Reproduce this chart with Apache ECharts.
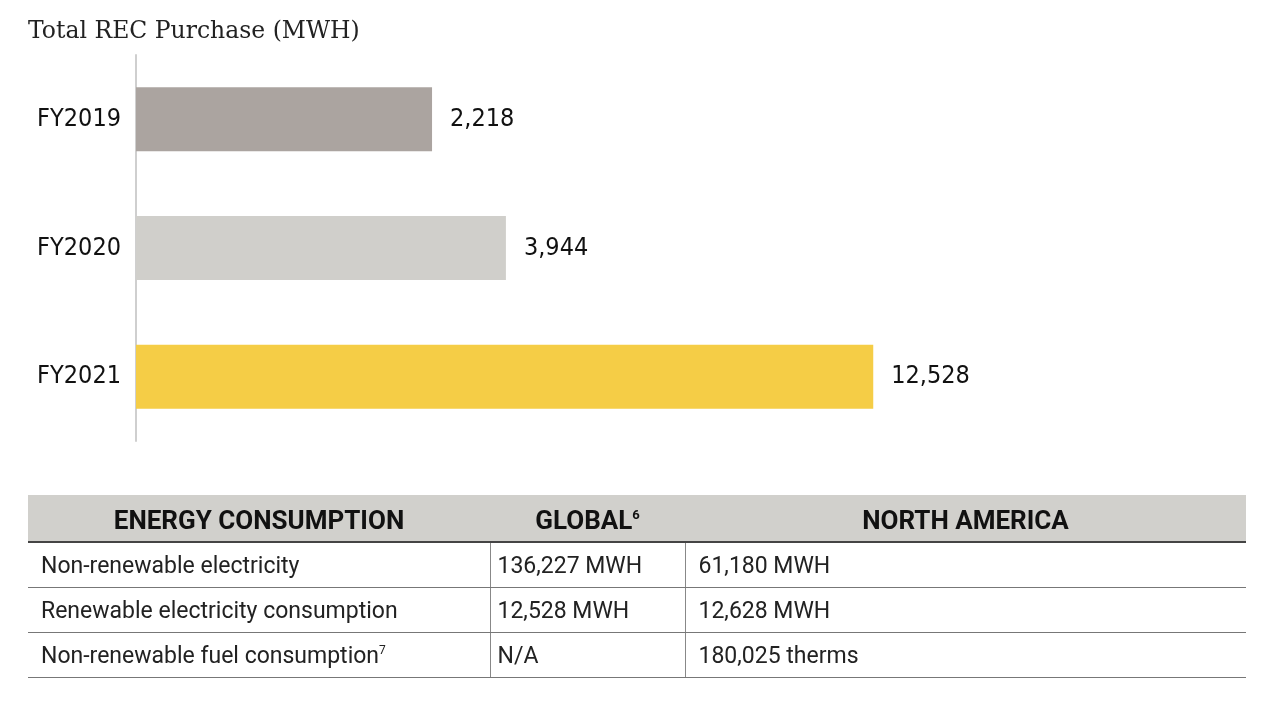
<!DOCTYPE html>
<html>
<head>
<meta charset="utf-8">
<script src="https://cdn.jsdelivr.net/npm/echarts@6/dist/echarts.min.js"></script>
<style>
  html, body { margin: 0; padding: 0; background: #fff; }
  #chart { position: absolute; left: 0; top: 0; width: 1280px; height: 716px; }
  #energy {
    position: absolute; left: 28px; top: 495px; width: 1218px;
    border-collapse: collapse; font-family: Roboto, "Noto Sans", sans-serif;
    color: #222; table-layout: fixed;
  }
  #energy th {
    background: #d1d0cc; height: 47px; padding: 3px 0 0 0; font-size: 26px; font-weight: 700;
    color: #111; border-bottom: 2px solid #444; text-align: center; box-sizing: border-box;
  }
  #energy th sup { font-size: 13px; vertical-align: 10px; line-height: 0; }
  #energy td {
    height: 45px; padding: 2px 0 0 13px; font-size: 23px; font-weight: 400;
    border-bottom: 1px solid #777; border-left: 1px solid #888; box-sizing: border-box;
  }
  #energy td:first-child { border-left: none; }
  #energy td sup { font-size: 12px; vertical-align: 9px; line-height: 0; }
</style>
</head>
<body>
<div id="chart"></div>
<table id="energy"><thead></thead><tbody></tbody></table>
<script>
// chart data
const years = ['FY2019', 'FY2020', 'FY2021']
const recPurchase = [2218, 3944, 12528]
const barColors = ['#aba4a0', '#d0cfcb', '#f5cd46']

// table data
const tableHeader = ['ENERGY CONSUMPTION', 'GLOBAL', 'NORTH AMERICA']
const headerNotes = ['', '6', '']
const rowLabels = ['Non-renewable electricity', 'Renewable electricity consumption', 'Non-renewable fuel consumption']
const rowNotes = ['', '', '7']
const globalValues = ['136,227 MWH', '12,528 MWH', 'N/A']
const northAmericaValues = ['61,180 MWH', '12,628 MWH', '180,025 therms']

const narrow = '"DejaVu Sans Condensed", "Liberation Sans Narrow", sans-serif'

const chart = echarts.init(document.getElementById('chart'))
chart.setOption({
  animation: false,
  title: {
    text: 'Total REC Purchase (MWH)',
    left: 23,
    top: 15,
    textStyle: { fontFamily: '"DejaVu Serif", "Liberation Serif", serif', fontSize: 23.5, fontWeight: 400, color: '#222' },
  },
  grid: { left: 136, right: 87, top: 55, bottom: 275 },
  xAxis: {
    type: 'value',
    min: -4700,
    max: 20000,
    startValue: -4700,
    show: false,
  },
  yAxis: {
    type: 'category',
    data: years,
    inverse: true,
    axisLine: { onZero: false, lineStyle: { color: '#cfcfcf', width: 2 } },
    axisTick: { show: false },
    axisLabel: { fontFamily: narrow, fontSize: 25, color: '#111', margin: 15 },
  },
  series: [{
    type: 'bar',
    barWidth: 64,
    data: recPurchase.map((v, i) => ({ value: v, itemStyle: { color: barColors[i] } })),
    label: {
      show: true,
      position: 'right',
      distance: 18,
      fontFamily: narrow,
      fontSize: 25,
      color: '#111',
      formatter: p => p.value.toLocaleString('en-US'),
    },
  }],
})

// build the table below the chart
const thead = document.querySelector('#energy thead')
const widths = [462, 195, 561]
thead.innerHTML = '<tr>' + tableHeader.map((h, i) =>
  `<th style="width:${widths[i]}px">${h}${headerNotes[i] ? `<sup>${headerNotes[i]}</sup>` : ''}</th>`).join('') + '</tr>'
const tbody = document.querySelector('#energy tbody')
tbody.innerHTML = rowLabels.map((r, i) =>
  `<tr><td>${r}${rowNotes[i] ? `<sup>${rowNotes[i]}</sup>` : ''}</td><td style="padding-left:7px">${globalValues[i]}</td><td>${northAmericaValues[i]}</td></tr>`).join('')
</script>
</body>
</html>
